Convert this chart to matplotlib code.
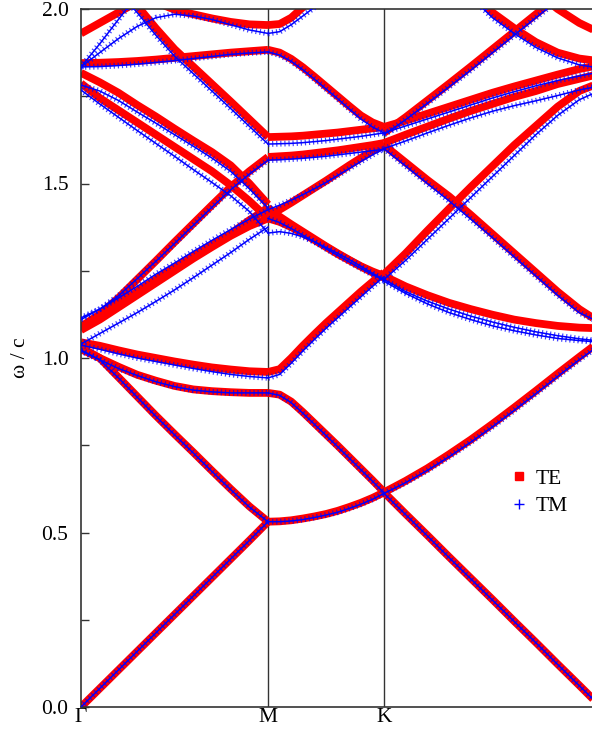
import matplotlib
matplotlib.use("Agg")
import matplotlib.pyplot as plt
from matplotlib.lines import Line2D

plt.rcParams['font.family'] = ['Liberation Serif', 'DejaVu Serif']

# high symmetry points along the path
sym_labels = ['\u0393', 'M', 'K', '\u0393']
sym_k = [0.0, 1.0, 1.62, 2.78]

# fraction along each path segment where the bands were read
t = [0.0, 0.1, 0.2, 0.3, 0.4, 0.5, 0.6, 0.7, 0.8, 0.9, 1.0]

# ---- Gamma -> M ----
te_gm = [
    [0.0, 0.053, 0.106, 0.159, 0.212, 0.265, 0.318, 0.371, 0.424, 0.477, 0.531],
    [1.03, 1.0, 0.945, 0.89, 0.835, 0.782, 0.73, 0.677, 0.625, 0.575, 0.531],
    [1.025, 1.0, 0.975, 0.952, 0.935, 0.92, 0.91, 0.905, 0.902, 0.90, 0.90],
    [1.045, 1.035, 1.022, 1.01, 1.0, 0.99, 0.981, 0.973, 0.967, 0.962, 0.96],
    [1.085, 1.12, 1.155, 1.19, 1.225, 1.26, 1.293, 1.325, 1.356, 1.395, 1.43],
    [1.08, 1.11, 1.145, 1.18, 1.215, 1.25, 1.285, 1.318, 1.35, 1.378, 1.40],
    [1.09, 1.125, 1.172, 1.225, 1.278, 1.332, 1.385, 1.438, 1.49, 1.535, 1.576],
    [1.817, 1.79, 1.76, 1.725, 1.692, 1.657, 1.623, 1.59, 1.552, 1.50, 1.44],
    [1.787, 1.745, 1.71, 1.675, 1.64, 1.605, 1.57, 1.535, 1.495, 1.45, 1.40],
    [1.845, 1.846, 1.848, 1.851, 1.855, 1.86, 1.865, 1.87, 1.875, 1.879, 1.883],
    [1.93, 1.96, 1.99, 2.02, 2.05, 2.08, 2.11, 2.14, 2.17, 2.2, 2.23],
    [2.2, 2.13, 2.07, 2.01, 1.945, 1.885, 1.835, 1.785, 1.735, 1.684, 1.633],
    [2.2, 2.15, 2.1, 2.06, 2.02, 1.998, 1.985, 1.973, 1.963, 1.956, 1.954],
]
tm_gm = [
    [0.0, 0.053, 0.106, 0.159, 0.212, 0.265, 0.318, 0.371, 0.424, 0.477, 0.531],
    [1.023, 0.995, 0.943, 0.888, 0.833, 0.78, 0.728, 0.675, 0.623, 0.573, 0.531],
    [1.02, 0.995, 0.97, 0.95, 0.932, 0.918, 0.908, 0.903, 0.90, 0.90, 0.90],
    [1.037, 1.025, 1.012, 1.0, 0.99, 0.98, 0.97, 0.961, 0.953, 0.947, 0.943],
    [1.11, 1.14, 1.172, 1.205, 1.24, 1.272, 1.305, 1.337, 1.368, 1.398, 1.425],
    [1.04, 1.07, 1.10, 1.13, 1.162, 1.195, 1.23, 1.266, 1.302, 1.34, 1.375],
    [1.115, 1.14, 1.178, 1.227, 1.277, 1.328, 1.38, 1.432, 1.482, 1.527, 1.567],
    [1.782, 1.765, 1.738, 1.705, 1.673, 1.64, 1.607, 1.573, 1.535, 1.485, 1.43],
    [1.768, 1.728, 1.69, 1.652, 1.615, 1.578, 1.54, 1.503, 1.465, 1.42, 1.358],
    [1.834, 1.835, 1.838, 1.842, 1.847, 1.852, 1.858, 1.864, 1.87, 1.874, 1.877],
    [1.834, 1.875, 1.915, 1.95, 1.975, 1.985, 1.98, 1.97, 1.955, 1.94, 1.93],
    [1.834, 1.90, 1.97, 2.04, 2.11, 2.18, 2.25, 2.32, 2.39, 2.46, 2.53],
    [2.18, 2.11, 2.05, 1.99, 1.925, 1.865, 1.815, 1.765, 1.715, 1.664, 1.613],
]

# ---- M -> K ----
te_mk = [
    [0.531, 0.532, 0.535, 0.54, 0.546, 0.553, 0.562, 0.573, 0.585, 0.599, 0.615],
    [0.90, 0.895, 0.875, 0.845, 0.813, 0.781, 0.749, 0.716, 0.683, 0.65, 0.616],
    [0.96, 0.968, 1.0, 1.035, 1.068, 1.10, 1.13, 1.16, 1.19, 1.218, 1.245],
    [1.43, 1.405, 1.383, 1.362, 1.341, 1.32, 1.30, 1.281, 1.263, 1.248, 1.235],
    [1.40, 1.39, 1.375, 1.357, 1.338, 1.318, 1.298, 1.28, 1.262, 1.245, 1.23],
    [1.405, 1.425, 1.445, 1.466, 1.487, 1.508, 1.53, 1.552, 1.573, 1.593, 1.61],
    [1.633, 1.634, 1.635, 1.637, 1.64, 1.643, 1.646, 1.65, 1.654, 1.658, 1.662],
    [1.576, 1.578, 1.58, 1.583, 1.587, 1.591, 1.595, 1.60, 1.605, 1.61, 1.616],
    [1.883, 1.875, 1.857, 1.833, 1.806, 1.778, 1.75, 1.722, 1.695, 1.675, 1.662],
    [1.954, 1.957, 1.975, 2.005, 2.04, 2.075, 2.11, 2.145, 2.18, 2.21, 2.24],
]
tm_mk = [
    [0.531, 0.531, 0.533, 0.537, 0.543, 0.55, 0.558, 0.569, 0.581, 0.595, 0.612],
    [0.90, 0.893, 0.872, 0.842, 0.81, 0.778, 0.746, 0.713, 0.68, 0.647, 0.613],
    [0.943, 0.953, 0.985, 1.02, 1.053, 1.085, 1.115, 1.145, 1.175, 1.205, 1.233],
    [1.358, 1.362, 1.357, 1.347, 1.333, 1.317, 1.30, 1.282, 1.263, 1.243, 1.225],
    [1.40, 1.388, 1.371, 1.352, 1.333, 1.313, 1.294, 1.275, 1.257, 1.239, 1.222],
    [1.425, 1.438, 1.452, 1.468, 1.485, 1.503, 1.523, 1.543, 1.563, 1.582, 1.60],
    [1.613, 1.614, 1.615, 1.617, 1.62, 1.623, 1.627, 1.631, 1.635, 1.64, 1.645],
    [1.567, 1.568, 1.57, 1.572, 1.575, 1.578, 1.582, 1.586, 1.59, 1.594, 1.598],
    [1.877, 1.868, 1.85, 1.826, 1.799, 1.771, 1.743, 1.714, 1.685, 1.662, 1.645],
    [1.93, 1.935, 1.955, 1.98, 2.005, 2.035, 2.07, 2.10, 2.13, 2.16, 2.19],
]

# ---- K -> Gamma ----
te_kg = [
    [0.615, 0.553, 0.492, 0.43, 0.369, 0.308, 0.246, 0.185, 0.123, 0.062, 0.0],
    [0.615, 0.648, 0.684, 0.724, 0.766, 0.811, 0.858, 0.906, 0.955, 1.003, 1.05],
    [1.235, 1.205, 1.18, 1.158, 1.14, 1.124, 1.11, 1.10, 1.092, 1.087, 1.085],
    [1.24, 1.30, 1.365, 1.428, 1.49, 1.55, 1.61, 1.665, 1.72, 1.765, 1.79],
    [1.61, 1.56, 1.51, 1.463, 1.41, 1.355, 1.30, 1.245, 1.19, 1.14, 1.10],
    [1.662, 1.68, 1.70, 1.72, 1.74, 1.76, 1.778, 1.795, 1.812, 1.828, 1.84],
    [1.616, 1.64, 1.663, 1.686, 1.708, 1.728, 1.748, 1.765, 1.785, 1.80, 1.815],
    [1.645, 1.69, 1.738, 1.786, 1.835, 1.885, 1.935, 1.985, 2.035, 2.085, 2.13],
    [2.25, 2.2, 2.15, 2.1, 2.05, 1.99, 1.945, 1.905, 1.875, 1.858, 1.85],
    [2.5, 2.45, 2.4, 2.3, 2.2, 2.15, 2.1, 2.05, 2.0, 1.96, 1.93],
]
tm_kg = [
    [0.612, 0.551, 0.49, 0.428, 0.367, 0.306, 0.245, 0.184, 0.122, 0.061, 0.0],
    [0.612, 0.643, 0.678, 0.717, 0.759, 0.803, 0.85, 0.898, 0.947, 0.995, 1.04],
    [1.225, 1.19, 1.163, 1.14, 1.12, 1.103, 1.088, 1.075, 1.064, 1.055, 1.048],
    [1.22, 1.185, 1.155, 1.13, 1.11, 1.092, 1.078, 1.066, 1.056, 1.05, 1.045],
    [1.225, 1.28, 1.34, 1.40, 1.46, 1.52, 1.58, 1.64, 1.695, 1.74, 1.768],
    [1.60, 1.55, 1.50, 1.45, 1.398, 1.345, 1.29, 1.235, 1.18, 1.13, 1.10],
    [1.645, 1.665, 1.685, 1.705, 1.725, 1.745, 1.763, 1.78, 1.795, 1.808, 1.82],
    [1.60, 1.622, 1.645, 1.667, 1.688, 1.707, 1.723, 1.737, 1.752, 1.768, 1.78],
    [1.64, 1.683, 1.73, 1.777, 1.825, 1.875, 1.925, 1.975, 2.025, 2.075, 2.12],
    [2.24, 2.19, 2.14, 2.09, 2.035, 1.975, 1.93, 1.89, 1.86, 1.84, 1.83],
]

segments = [(te_gm, tm_gm), (te_mk, tm_mk), (te_kg, tm_kg)]

fig = plt.figure(figsize=(5.92, 7.30), dpi=100)
# the plot runs a little past the right edge of the picture
ax = fig.add_axes([81/592, 23/730, 520/592, 698/730])

for i, (te, tm) in enumerate(segments):
    k0, k1 = sym_k[i], sym_k[i+1]
    k = [k0 + (k1 - k0)*f for f in t]
    for w in te:
        ax.plot(k, w, color='red', lw=5.6, solid_capstyle='butt', zorder=2)
    for w in tm:
        ax.plot(k, w, color='blue', lw=1.1, zorder=3)
        ax.plot(k, w, color='blue', lw=4.2, dashes=(0.2, 0.5), alpha=0.75, zorder=3)

for kk in sym_k[1:3]:
    ax.axvline(kk, color='#333333', lw=1.0, zorder=1)

ax.set_xlim(sym_k[0], sym_k[-1])
ax.set_ylim(0, 2.0)
ax.set_xticks(sym_k)
ax.set_xticklabels(sym_labels)
ax.set_yticks([0, 0.5, 1.0, 1.5, 2.0])
ax.set_yticklabels(['0.0', '0.5', '1.0', '1.5', '2.0'])
ax.set_yticks([0.25, 0.75, 1.25, 1.75], minor=True)
ax.tick_params(axis='y', which='both', direction='in', length=6, width=1,
               right=True, labelsize=15.5, pad=9, color='#333333')
ax.tick_params(axis='x', length=0, labelsize=15.5, pad=1)
ax.set_ylabel('\u03c9 / c', fontsize=15.5, labelpad=8)
for sp in ax.spines.values():
    sp.set_color('#333333')
    sp.set_linewidth(1.2)

handles = [Line2D([], [], marker='s', color='red', ls='none', markersize=6),
           Line2D([], [], marker='+', color='blue', ls='none', markersize=7)]
ax.legend(handles, ['TE', 'TM'], loc='upper left', bbox_to_anchor=(0.81, 0.357),
          frameon=False, fontsize=15.5, handlelength=0.6, handletextpad=0.45,
          labelspacing=0.35, borderpad=0)

fig.savefig('out.png', dpi=100)
